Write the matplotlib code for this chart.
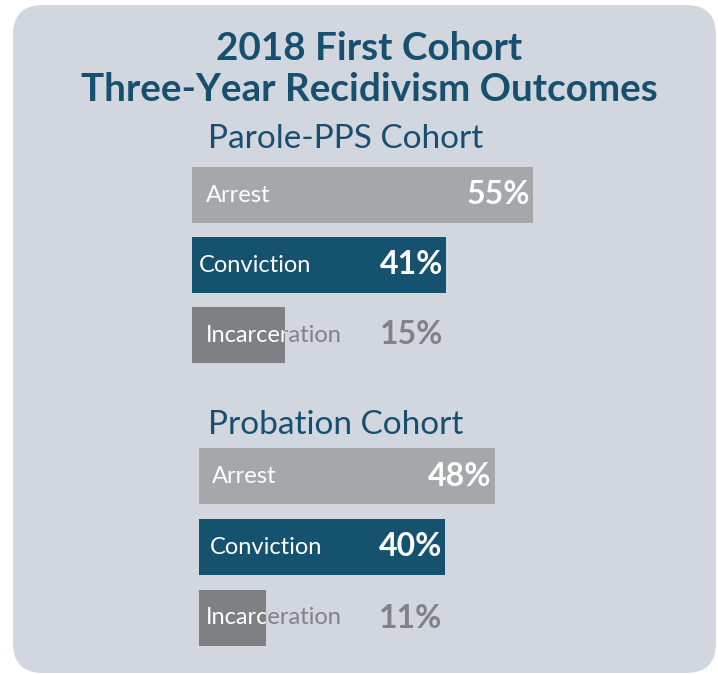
import matplotlib.pyplot as plt
from matplotlib.patches import FancyBboxPatch
from matplotlib import transforms

plt.rcParams['font.family'] = ['Lato', 'DejaVu Sans']

# data
categories = ["Arrest", "Conviction", "Incarceration"]
parole_values = [55, 41, 15]
probation_values = [48, 40, 11]
title = "2018 First Cohort\nThree-Year Recidivism Outcomes"
parole_title = "Parole-PPS Cohort"
probation_title = "Probation Cohort"

bar_colors = ["#a6a7ab", "#15526f", "#7f8084"]
title_color = "#17506e"
bg_color = "#d1d6df"
gray_text = "#818286"

W, H = 718, 674
fig = plt.figure(figsize=(W / 100, H / 100), dpi=100)
fig.patch.set_facecolor("white")

# background card drawn in a pixel-space axes
bg = fig.add_axes([0, 0, 1, 1], zorder=-1)
bg.set_xlim(0, W)
bg.set_ylim(H, 0)
bg.axis("off")
bg.add_patch(FancyBboxPatch((13, 5), 703, 668,
                            boxstyle="round,pad=0,rounding_size=30",
                            facecolor=bg_color, edgecolor="none"))


def px_axes(x0, y0, x1, y1):
    # axes from pixel box (top-left origin)
    return fig.add_axes([x0 / W, 1 - y1 / H, (x1 - x0) / W, (y1 - y0) / H])


def draw_cohort(ax, values, label_offsets):
    ax.set_xlim(0, 80)
    ax.set_ylim(2.5, -0.5)
    ax.axis("off")
    ax.patch.set_alpha(0)
    bars = ax.barh(range(len(values)), values, height=0.8, color=bar_colors)
    for i, (bar, v) in enumerate(zip(bars, values)):
        inside = v > 25
        off = transforms.offset_copy(ax.transData, fig=fig, x=label_offsets[i], y=0, units="points")
        # category label, gray where it runs past the bar, white on top of it
        if not inside:
            ax.text(0, i, categories[i], transform=off, color=gray_text,
                    fontsize=17, va="center", ha="left")
        t = ax.text(0, i, categories[i], transform=off, color="white",
                    fontsize=17, va="center", ha="left", clip_on=True)
        t.set_clip_path(None)
        t.set_clip_box(transforms.TransformedBbox(bar.get_bbox(), ax.transData))
        # value label
        xv = max(v, values[1])
        voff = transforms.offset_copy(ax.transData, fig=fig, x=-2, y=0, units="points")
        ax.text(xv, i, f"{v}%", transform=voff, color="white" if inside else gray_text,
                fontsize=23, fontweight="bold", va="center", ha="right")


ax1 = px_axes(192, 160, 192 + 6.2 * 80, 370)
draw_cohort(ax1, parole_values, [10, 5, 10])

ax2 = px_axes(198.5, 440.5, 198.5 + 6.17 * 80, 653.5)
draw_cohort(ax2, probation_values, [10, 8, 5])

fig.text(369 / W, 1 - 69 / H, title, ha="center", va="center", color=title_color,
         fontsize=27.8, fontweight="bold", linespacing=1.2)
fig.text(208 / W, 1 - 139 / H, parole_title, ha="left", va="center",
         color=title_color, fontsize=24)
fig.text(208 / W, 1 - 425 / H, probation_title, ha="left", va="center",
         color=title_color, fontsize=24)

fig.savefig("out.png", dpi=100)
